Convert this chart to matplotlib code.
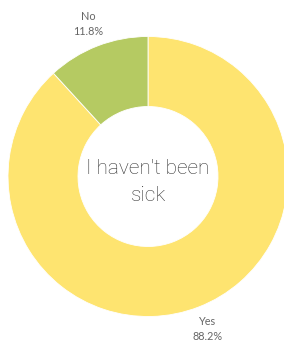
import matplotlib
matplotlib.use("Agg")
import matplotlib.pyplot as plt

# data
labels = ["Yes", "No"]
shares = [88.2, 11.8]
colors = ["#FEE470", "#B5CA62"]
title = "I haven't been\nsick"

fig = plt.figure(figsize=(2.84, 3.44), dpi=100)
ax = fig.add_axes([0, 0, 1, 1])

slice_labels = [lab + "\n" + ("%.1f%%" % v) for lab, v in zip(labels, shares)]
wedges, texts = ax.pie(shares, labels=slice_labels, colors=colors,
                       startangle=90, counterclock=False, radius=1.0,
                       labeldistance=1.17,
                       wedgeprops=dict(width=0.5, edgecolor="white", linewidth=0.6),
                       textprops=dict(fontsize=7.8, color="#666666", family="Lato"))
for t in texts:
    t.set_ha("center")
    t.set_va("center")
    t.set_linespacing(1.4)

ax.text(0, -0.04, title, ha="center", va="center", fontsize=15,
        color="#333333", family="Roboto", fontweight="light", linespacing=1.55)

ax.set_aspect("auto")
ax.set_xlim(-148 / 140, (284 - 148) / 140)
ax.set_ylim((176.5 - 344) / 140, 176.5 / 140)
ax.axis("off")

fig.savefig("out.png", dpi=100, facecolor="white")
